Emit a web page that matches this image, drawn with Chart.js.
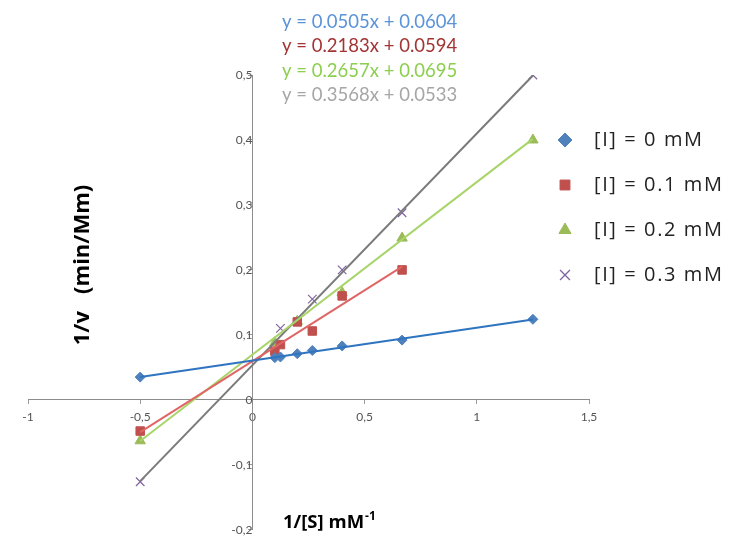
<!DOCTYPE html>
<html>
<head>
<meta charset="utf-8">
<script src="https://cdn.jsdelivr.net/npm/chart.js@4/dist/chart.umd.min.js"></script>
<style>
    html, body { margin: 0; padding: 0; background: #fff; }
    #wrap { width: 740px; height: 537px; }
</style>
</head>
<body>
<div id="wrap"><canvas id="myChart"></canvas></div>
<script>
// data
const seriesNames = ['[I] = 0 mM', '[I] = 0.1 mM', '[I] = 0.2 mM', '[I] = 0.3 mM'];

const x0 = [-0.5, 0.1, 0.125, 0.2, 0.267, 0.4, 0.667, 1.25];
const y0 = [0.035, 0.065, 0.066, 0.071, 0.076, 0.083, 0.092, 0.124];

const x1 = [-0.5, 0.1, 0.125, 0.2, 0.267, 0.4, 0.667];
const y1 = [-0.048, 0.075, 0.085, 0.12, 0.106, 0.16, 0.2];

const x2 = [-0.5, 0.1, 0.2, 0.4, 0.667, 1.25];
const y2 = [-0.063, 0.088, 0.121, 0.165, 0.249, 0.4];

const x3 = [-0.5, 0.125, 0.267, 0.4, 0.667, 1.25];
const y3 = [-0.126, 0.11, 0.155, 0.2, 0.288, 0.5];

// trendline coefficients (as printed on the chart)
const slopes = [0.0505, 0.2183, 0.2657, 0.3568];
const intercepts = [0.0604, 0.0594, 0.0695, 0.0533];

const xTicks = [-1, -0.5, 0, 0.5, 1, 1.5];
const yTicks = [-0.2, -0.1, 0, 0.1, 0.2, 0.3, 0.4, 0.5];

const markerColors = ['#4f81bd', '#c0504d', '#9bbb59', '#8064a2'];
const lineColors = ['#2f74c0', '#e06666', '#a8d46a', '#7a7a7a'];
const eqColors = ['#5b93d8', '#a33434', '#8ccf4f', '#a6a6a6'];
const markers = ['rectRot', 'rect', 'triangle', 'crossRot'];
const markerSizes = [5, 6, 6, 6];

function toPoints(xs, ys) {
    return xs.map((x, i) => ({x: x, y: ys[i]}));
}

function trendPoints(i, xs) {
    let lo = Math.min(...xs), hi = Math.max(...xs);
    return [{x: lo, y: slopes[i] * lo + intercepts[i]}, {x: hi, y: slopes[i] * hi + intercepts[i]}];
}

function commaFmt(v) {
    return String(Math.round(v * 10) / 10).replace('.', ',');
}

const allX = [x0, x1, x2, x3];
const allY = [y0, y1, y2, y3];

let datasets = [];
for (let i = 0; i < 4; i++) {
    datasets.push({
        label: seriesNames[i] + ' trend',
        data: trendPoints(i, allX[i]),
        showLine: true,
        borderColor: lineColors[i],
        borderWidth: 2,
        pointRadius: 0
    });
}
for (let i = 0; i < 4; i++) {
    datasets.push({
        label: seriesNames[i],
        data: toPoints(allX[i], allY[i]),
        showLine: false,
        pointStyle: markers[i],
        pointRadius: markerSizes[i],
        backgroundColor: markerColors[i],
        borderColor: markerColors[i],
        borderWidth: i === 3 ? 1.2 : 1
    });
}

// extra texts: equations, legend, axis titles
const textPlugin = {
    id: 'texts',
    afterDraw(chart) {
        const c = chart.ctx;
        c.save();
        c.textBaseline = 'middle';
        c.textAlign = 'left';

        c.font = '18.5px Lato, "Open Sans", sans-serif';
        for (let i = 0; i < 4; i++) {
            let s = slopes[i].toFixed(4), b = intercepts[i].toFixed(4);
            c.fillStyle = eqColors[i];
            c.fillText('y = ' + s + 'x + ' + b, 282, 22 + i * 24.5);
        }

        c.font = '20px "Open Sans", sans-serif';
        c.letterSpacing = '1.6px';
        for (let i = 0; i < 4; i++) {
            let yy = 140 + i * 45;
            c.fillStyle = markerColors[i];
            c.strokeStyle = markerColors[i];
            c.lineWidth = i === 3 ? 1.3 : 1;
            Chart.helpers.drawPoint(c, {
                pointStyle: markers[i],
                radius: 7,
                borderWidth: i === 3 ? 1.3 : 1
            }, 565, yy);
            c.fillStyle = '#222';
            c.fillText(seriesNames[i], 594, yy);
        }
        c.letterSpacing = '0px';

        // y title
        c.save();
        c.translate(83, 265);
        c.rotate(-Math.PI / 2);
        c.textAlign = 'center';
        c.fillStyle = '#000';
        c.font = 'bold 22px "Open Sans", sans-serif';
        c.fillText('1/v   (min/Mm)', 0, 0);
        c.restore();

        // x title
        c.fillStyle = '#000';
        c.font = 'bold 18.5px "Open Sans", sans-serif';
        c.fillText('1/[S] mM', 283, 523);
        let w = c.measureText('1/[S] mM').width;
        c.font = 'bold 12px "Open Sans", sans-serif';
        c.fillText('-1', 283 + w + 1, 517);
        c.restore();
    }
};

function drawChart() {
    const ctx = document.getElementById('myChart');

    new Chart(ctx, {
        type: 'scatter',
        data: { datasets: datasets },
        options: {
            responsive: true,
            maintainAspectRatio: false,
            animation: false,
            layout: { padding: { left: 28, right: 151, top: 75, bottom: 7 } },
            plugins: {
                legend: { display: false },
                tooltip: { enabled: false }
            },
            scales: {
                x: {
                    type: 'linear',
                    position: { y: 0 },
                    min: -1,
                    max: 1.5,
                    afterBuildTicks: axis => { axis.ticks = xTicks.map(v => ({value: v})); },
                    afterFit: s => { s.paddingLeft = 0; s.paddingRight = 0; s.paddingTop = 0; s.paddingBottom = 0; },
                    grid: { drawOnChartArea: false, tickLength: 4, color: '#9a9a9a' },
                    border: { color: '#8c8c8c', width: 1 },
                    ticks: {
                        color: '#555',
                        font: { size: 12, family: 'Lato, "Open Sans", sans-serif' },
                        padding: 6,
                        maxRotation: 0,
                        callback: v => commaFmt(v)
                    }
                },
                y: {
                    type: 'linear',
                    position: { x: 0 },
                    min: -0.2,
                    max: 0.5,
                    afterBuildTicks: axis => { axis.ticks = yTicks.map(v => ({value: v})); },
                    afterFit: s => { s.paddingLeft = 0; s.paddingRight = 0; s.paddingTop = 0; s.paddingBottom = 0; },
                    grid: { drawOnChartArea: false, tickLength: 4, color: '#9a9a9a' },
                    border: { color: '#8c8c8c', width: 1 },
                    ticks: {
                        color: '#555',
                        font: { size: 12, family: 'Lato, "Open Sans", sans-serif' },
                        padding: 6,
                        callback: v => commaFmt(v)
                    }
                }
            }
        },
        plugins: [textPlugin]
    });
}

drawChart();
</script>
</body>
</html>
